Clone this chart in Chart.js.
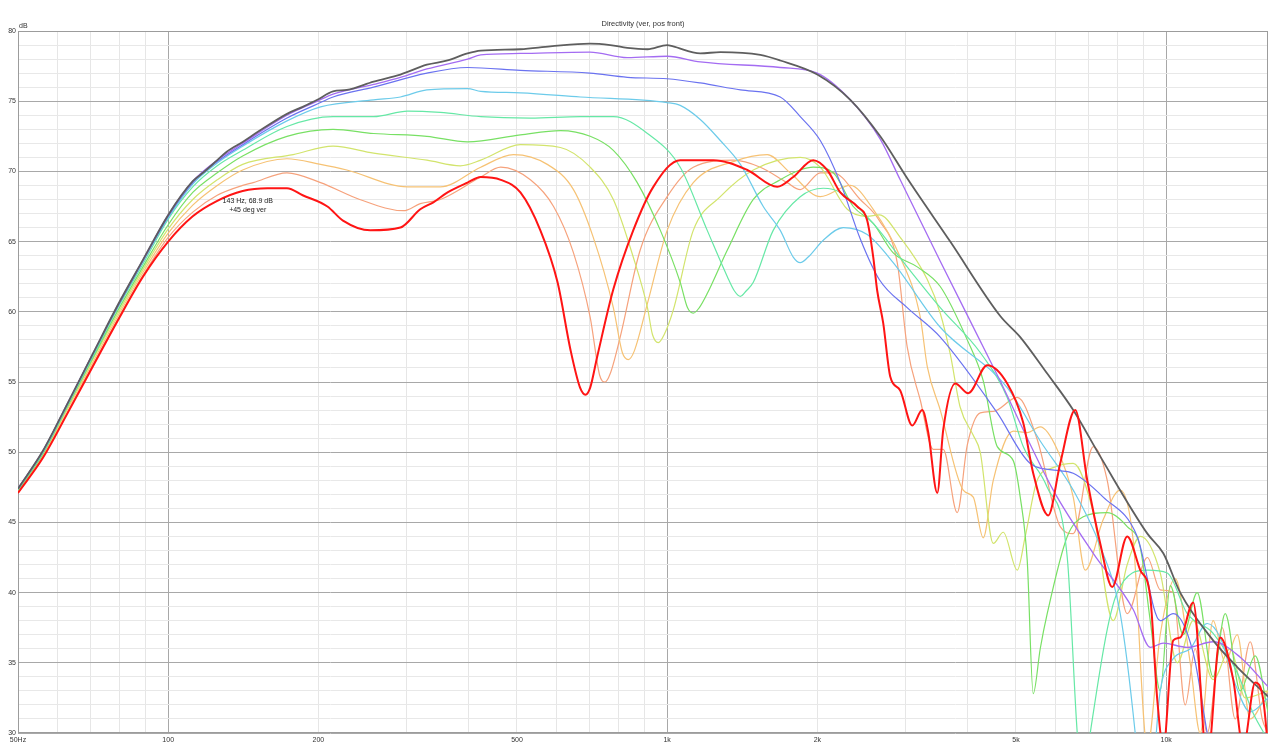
<!DOCTYPE html>
<html lang="en">
<head>
<meta charset="UTF-8">
<title>Directivity (ver, pos front)</title>
<script src="https://cdn.jsdelivr.net/npm/chart.js@4.4.0/dist/chart.umd.min.js"></script>
<style>
  html, body { margin: 0; padding: 0; background: #fff; }
  #wrap { width: 1280px; height: 756px; position: relative; }
</style>
</head>
<body>
<div id="wrap"><canvas id="myChart"></canvas></div>
<script>
// --- data: [Hz, dB] ---
const deg0 = [[50,47.4],[56.1,50.1],[62.9,53.5],[70.6,57.0],[79.3,60.5],[89,63.7],[100,66.9],[112,69.3],[117.4,69.9],[125.4,70.8],[131,71.4],[141,72.1],[151,72.8],[173,74.1],[186,74.6],[199,75.1],[214,75.7],[228,75.8],[258,76.4],[292,76.9],[330,77.6],[363,77.9],[398,78.4],[423,78.6],[508,78.7],[583,78.9],[700,79.1],[769,79.0],[832,78.8],[913,78.7],[1000,79.0],[1028,78.9],[1165,78.4],[1278,78.5],[1537,78.3],[1685,77.9],[1999,76.9],[2328,75.1],[2673,72.5],[3041,69.4],[3692,65.0],[4650,59.7],[5100,58.2],[5776,55.6],[6513,53.0],[7377,49.7],[9170,44.2],[9870,42.8],[10670,40.0],[12420,36.6],[13880,34.7],[16000,32.6]];
const deg5 = [[50,47.4],[56.1,50.1],[62.9,53.5],[70.6,57.0],[79.3,60.5],[89,63.7],[100,66.9],[112,69.3],[125.4,70.8],[141,72.0],[173,74.0],[199,75.0],[214,75.5],[258,76.2],[292,76.7],[330,77.3],[398,78.0],[423,78.3],[508,78.4],[700,78.5],[832,78.1],[1000,78.2],[1165,77.8],[1685,77.4],[1999,77.0],[2328,75.1],[2673,72.3],[2931,69.4],[3526,63.6],[4587,55.5],[5939,47.3],[7143,42.8],[8590,38.8],[9292,36.1],[9870,36.4],[11022,36.1],[12420,36.5],[14074,35.4],[16000,33.3]];
const deg10 = [[50,47.4],[56.1,50.1],[62.9,53.5],[70.6,57.0],[79.3,60.4],[89,63.6],[100,66.8],[112,69.2],[125.4,70.7],[141,71.9],[173,73.8],[199,74.8],[214,75.3],[258,76.0],[330,77.0],[398,77.4],[508,77.2],[700,77.0],[832,76.7],[1000,76.6],[1165,76.3],[1402,75.8],[1685,75.3],[1848,73.9],[2027,72.2],[2223,69.2],[2437,65.2],[2661,62.3],[3027,60.3],[3526,58.2],[4587,52.8],[5341,49.2],[6049,48.7],[6513,48.5],[7480,46.8],[8750,44.0],[9730,38.0],[10332,38.5],[11330,35.7],[12086,30.0],[12542,27]];
const deg15 = [[50,47.4],[56.1,50.0],[62.9,53.4],[70.6,56.9],[79.3,60.4],[89,63.6],[100,66.7],[112,69.1],[125.4,70.6],[141,71.8],[173,73.6],[202,74.6],[258,75.1],[292,75.3],[330,75.8],[398,75.9],[423,75.7],[508,75.6],[670,75.3],[1000,74.9],[1062,74.7],[1165,73.7],[1278,72.2],[1402,70.5],[1558,67.5],[1685,65.8],[1789,63.9],[1848,63.5],[1917,63.9],[2055,65.1],[2254,66.0],[2517,65.5],[2838,63.5],[3526,58.9],[4803,54.6],[5593,50.8],[6513,47.3],[7377,43.3],[8090,38.5],[8669,30.0],[8872,26],[9292,26],[9730,33],[10332,35.3],[11175,36.0],[12086,37.8],[12834,36.8],[13752,33.5],[14738,31.5],[16000,32.5]];
const deg20 = [[50,47.3],[56.1,50.0],[62.9,53.4],[70.6,56.8],[79.3,60.3],[89,63.4],[100,66.6],[112,68.9],[125.4,70.4],[141,71.5],[173,73.2],[214,73.9],[258,73.9],[302,74.3],[351,74.2],[423,73.9],[532,73.8],[670,73.9],[780,73.9],[913,72.7],[1062,70.3],[1203,65.8],[1320,62.5],[1363,61.5],[1402,61.1],[1441,61.5],[1488,62.1],[1631,65.8],[1848,68.2],[2055,68.8],[2223,68.5],[2588,66.3],[3027,63.2],[3526,60.3],[4240,57.1],[4803,53.9],[5171,50.4],[5776,47.5],[6336,42.5],[6635,30],[6821,26],[7045,30],[7979,40.0],[9170,41.6],[10051,41.4],[11022,38.5],[12420,37.1],[13880,34.3],[14944,31.4],[16000,29.5]];
const deg25 = [[50,47.3],[56.1,49.9],[62.9,53.3],[70.6,56.7],[79.3,60.1],[89,63.2],[100,66.2],[112,68.5],[125.4,69.9],[141,71.1],[173,72.5],[214,73.0],[258,72.7],[330,72.5],[398,72.1],[508,72.6],[611,72.9],[701,72.5],[780,71.5],[871,69.2],[969,65.8],[1062,62.1],[1098,60.3],[1128,59.9],[1160,60.3],[1203,61.3],[1320,64.4],[1488,68.0],[1685,69.4],[1848,70.1],[1962,70.3],[2152,69.9],[2360,67.5],[2588,66.3],[2838,64.2],[3171,63.2],[3526,61.8],[3994,58.0],[4299,55.1],[4587,50.4],[4938,49.4],[5100,46.8],[5267,42.3],[5415,32.8],[5593,36.0],[5776,38.5],[6336,44.0],[6821,45.4],[7619,45.7],[8356,44.7],[8874,43.2],[9292,38.0],[9730,33.0],[10191,40.5],[10820,37.0],[11541,40.0],[12420,34.0],[13133,38.5],[14074,33.0],[15082,35.5],[16000,31.5]];
const deg30 = [[50,47.3],[56.1,49.9],[62.9,53.2],[70.6,56.6],[79.3,59.9],[89,63.0],[100,65.9],[112,68.0],[125.4,69.4],[141,70.5],[178,71.2],[214,71.8],[258,71.3],[330,70.8],[385,70.4],[423,70.8],[508,71.9],[611,71.7],[701,70.3],[780,68.0],[855,63.9],[913,60.3],[934,58.4],[960,57.8],[987,58.4],[1028,60.1],[1128,65.8],[1278,68.2],[1488,70.1],[1848,71.0],[2027,70.3],[2296,67.3],[2517,66.8],[2661,66.9],[2931,65.3],[3321,62.3],[3526,59.9],[3692,57.0],[3866,53.2],[4106,51.2],[4240,50.0],[4503,43.5],[4716,44.3],[5030,41.6],[5219,44.0],[5516,48.0],[5939,48.9],[6513,49.2],[7143,45.7],[7833,38.0],[8356,42.0],[8874,44.0],[9730,41.4],[10525,35.0],[11330,38.0],[12420,33.8],[13440,36.0],[14402,32.5],[16000,33.0]];
const deg35 = [[50,47.2],[56.1,49.8],[62.9,53.1],[70.6,56.4],[79.3,59.7],[89,62.8],[100,65.6],[112,67.6],[125.4,69.0],[141,70.1],[173,70.9],[202,70.5],[228,70.1],[302,68.9],[351,68.9],[423,70.3],[492,71.2],[575,70.5],[649,68.7],[711,65.3],[780,60.3],[813,57.1],[836,56.6],[859,57.2],[913,60.6],[1000,65.8],[1128,69.2],[1357,70.7],[1587,71.2],[1764,69.9],[2027,68.2],[2328,69.0],[2588,67.3],[2931,63.9],[3216,59.6],[3321,56.1],[3526,53.0],[3920,47.3],[4106,46.8],[4299,43.9],[4503,48.0],[4938,51.5],[5267,51.4],[5593,51.8],[6049,50.2],[6513,46.8],[6884,41.6],[7480,45.2],[8090,47.3],[8590,43.7],[9170,29],[9730,37],[10428,41],[11175,35],[11701,30],[12420,38],[13133,35],[13880,37],[14738,31],[16000,33]];
const deg40 = [[50,47.1],[56.1,49.7],[62.9,52.9],[70.6,56.2],[79.3,59.5],[89,62.6],[100,65.3],[112,67.1],[125.4,68.3],[141,69.0],[148,69.2],[173,69.9],[202,69.2],[242,68.0],[296,67.2],[320,67.7],[351,68.0],[423,69.6],[464,70.3],[532,69.4],[592,67.5],[649,64.2],[701,59.6],[732,55.5],[751,55.0],[769,55.6],[805,58.2],[883,64.4],[1000,68.2],[1128,70.3],[1357,70.8],[1537,70.3],[1740,69.2],[1848,68.7],[2027,69.9],[2152,69.9],[2437,68.0],[2661,66.5],[2891,63.5],[3027,57.5],[3216,53.7],[3414,50.2],[3575,50.2],[3813,45.7],[3994,50.5],[4240,52.8],[4503,52.9],[5030,53.9],[5516,50.9],[6133,44.7],[6513,44.2],[7143,50.4],[7619,48.0],[8356,38.5],[9170,42.5],[9730,40.2],[10332,40.0],[10920,32],[11435,36],[12086,30],[12952,37.5],[13752,31],[14738,36.5],[15577,31],[16000,30]];
const deg45 = [[50,47.1],[56.1,49.6],[62.9,52.8],[70.6,56.1],[79.3,59.4],[89,62.5],[100,65.0],[112,66.8],[125.4,67.9],[141,68.6],[158,68.8],[173,68.8],[186,68.3],[208.5,67.5],[224,66.5],[254,65.8],[292,66.0],[320,67.3],[340,67.8],[363,68.5],[398,69.2],[423,69.6],[464,69.4],[508,68.5],[557,65.8],[603,62.1],[640,57.3],[669,54.6],[686,54.1],[701,54.6],[724,56.8],[780,61.6],[855,65.8],[938,68.9],[1062,70.8],[1237,70.8],[1447,70.1],[1662,68.9],[1789,69.6],[1962,70.8],[2093,70.1],[2223,68.5],[2404,67.5],[2517,66.5],[2588,63.9],[2636,61.5],[2710,59.2],[2799,55.4],[2931,54.4],[3098,51.9],[3245,53.0],[3336,51.4],[3478,47.1],[3575,51.6],[3778,54.9],[4012,54.2],[4380,56.2],[4803,54.9],[5171,52.1],[5415,48.5],[5803,45.5],[6133,49.2],[6574,53.0],[6948,48.0],[7377,43.5],[7797,40.4],[8356,44.0],[8874,41.6],[9292,39.7],[9597,32.4],[9870,29],[10332,36.6],[10670,36.8],[11330,39.3],[12086,28],[12834,36.8],[13627,33.8],[14270,29],[15082,33.6],[15649,32.4],[16000,29]];

const seriesNames = ['+45 deg ver','0 deg','+5 deg ver','+10 deg ver','+15 deg ver','+20 deg ver','+25 deg ver','+30 deg ver','+35 deg ver','+40 deg ver'];
const seriesData = [deg45, deg0, deg5, deg10, deg15, deg20, deg25, deg30, deg35, deg40];
const seriesColors = ['#ff1414','#5e5e5e','#a46cf2','#6a72f0','#6ccbea','#66e8a6','#78e064','#d2e46c','#f6c274','#f6a27c'];
const seriesWidths = [2,1.8,1.3,1.2,1.2,1.2,1.2,1.2,1.2,1.2];

// axis ticks
const gridHz = [50,60,70,80,90,100,200,300,400,500,600,700,800,900,1000,2000,3000,4000,5000,6000,7000,8000,9000,10000];
const hzLabels = {50:'50Hz',100:'100',200:'200',500:'500',1000:'1k',2000:'2k',5000:'5k',10000:'10k'};
const decadeHz = [100,1000,10000];

const cursorHz = 143, cursorDb = 68.9;

Chart.defaults.font.family = "'Liberation Sans', Arial, sans-serif";
Chart.defaults.font.size = 7;
Chart.defaults.color = '#333';

const textsPlugin = {
  id: 'texts',
  beforeDatasetsDraw(chart) {
    const ctx = chart.ctx, a = chart.chartArea;
    ctx.save();
    ctx.strokeStyle = '#9c9c9c';
    ctx.lineWidth = 1;
    ctx.strokeRect(Math.round(a.left) + 0.5, Math.round(a.top) + 0.5,
      Math.round(a.right - a.left) - 1, Math.round(a.bottom - a.top) - 1);
    ctx.restore();
  },
  afterDraw(chart) {
    const ctx = chart.ctx, a = chart.chartArea;
    const xs = chart.scales.x, ys = chart.scales.y;
    ctx.save();
    ctx.fillStyle = '#333';
    ctx.font = "7.5px 'Liberation Sans', Arial, sans-serif";
    ctx.textAlign = 'center';
    ctx.textBaseline = 'middle';
    ctx.fillText('Directivity (ver, pos front)', (a.left + a.right) / 2, 24);
    ctx.textAlign = 'left';
    ctx.font = "7px 'Liberation Sans', Arial, sans-serif";
    ctx.fillText('dB', a.left + 1, 26);
    // cursor readout
    const cx = xs.getPixelForValue(cursorHz) + 2;
    const cy = ys.getPixelForValue(cursorDb) + 14;
    ctx.textAlign = 'center';
    ctx.fillStyle = '#222';
    ctx.fillText(cursorHz + ' Hz, ' + cursorDb.toFixed(1) + ' dB', cx, cy);
    ctx.fillText(seriesNames[0], cx, cy + 9);
    ctx.restore();
  }
};

new Chart(document.getElementById('myChart'), {
  type: 'scatter',
  data: {
    datasets: seriesData.map(function (d, i) {
      return {
        label: seriesNames[i],
        data: d.map(function (p) { return { x: p[0], y: p[1] }; }),
        showLine: true,
        borderColor: seriesColors[i],
        backgroundColor: seriesColors[i],
        borderWidth: seriesWidths[i],
        pointRadius: 0,
        cubicInterpolationMode: 'monotone',
        clip: 0
      };
    })
  },
  options: {
    responsive: true,
    maintainAspectRatio: false,
    animation: false,
    layout: { padding: { top: 31, right: 12, left: 0, bottom: 0 } },
    plugins: { legend: { display: false }, tooltip: { enabled: false }, title: { display: false } },
    scales: {
      x: {
        type: 'logarithmic',
        min: 50,
        max: 16000,
        afterBuildTicks: function (scale) {
          scale.ticks = gridHz.map(function (v) { return { value: v }; });
        },
        afterFit: function (scale) { scale.height = 23; },
        ticks: {
          autoSkip: false,
          maxRotation: 0,
          padding: 3,
          color: '#333',
          callback: function (v) { return hzLabels[v] || ''; }
        },
        grid: {
          drawTicks: false,
          color: function (c) {
            return c.tick && decadeHz.indexOf(c.tick.value) >= 0 ? '#a8a8a8' : '#e6e6e6';
          }
        },
        border: { display: false }
      },
      y: {
        min: 30,
        max: 80,
        afterFit: function (scale) { scale.width = 18; },
        ticks: {
          stepSize: 1,
          autoSkip: false,
          padding: 2,
          color: '#333',
          callback: function (v) { return v % 5 === 0 ? String(v) : ''; }
        },
        grid: {
          drawTicks: false,
          color: function (c) {
            return c.tick && c.tick.value % 5 === 0 ? '#a8a8a8' : '#e8e8e8';
          }
        },
        border: { display: false }
      }
    }
  },
  plugins: [textsPlugin]
});
</script>
</body>
</html>
